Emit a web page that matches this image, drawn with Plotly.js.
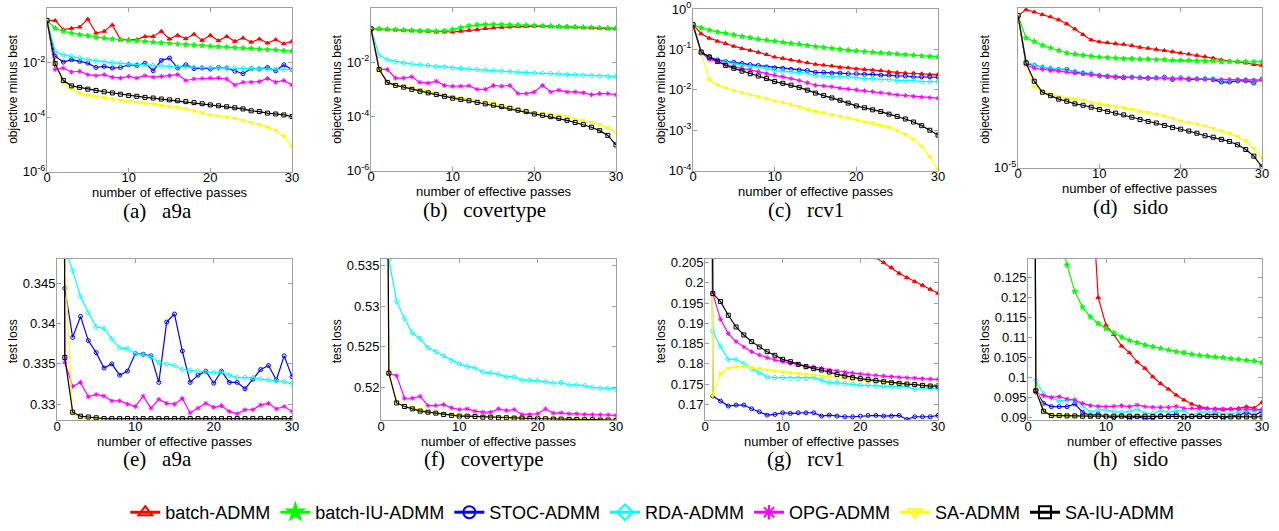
<!DOCTYPE html>
<html><head><meta charset="utf-8">
<script src="https://cdn.plot.ly/plotly-3.0.1.min.js"></script>
<style>html,body{margin:0;padding:0;background:#fff;} #chart{width:1279px;height:531px;}</style>
</head><body><div id="chart"></div>
<script>
// ---------------- DATA ----------------
const passes = [0,1,2,3,4,5,6,7,8,9,10,11,12,13,14,15,16,17,18,19,20,21,22,23,24,25,26,27,28,29,30];
const methods = ['batch-ADMM','batch-IU-ADMM','STOC-ADMM','RDA-ADMM','OPG-ADMM','SA-ADMM','SA-IU-ADMM'];
const captions = ['(a)   a9a','(b)   covertype','(c)   rcv1','(d)   sido','(e)   a9a','(f)   covertype','(g)   rcv1','(h)   sido'];
const xTitle = 'number of effective passes';
const objTitle = 'objective minus best';
const lossTitle = 'test loss';
const xTickVals = [0,10,20,30];
const xTickText = ['0','10','20','30'];

// (a) a9a objective minus best
const objA_batch   = [0.35,0.35,0.16,0.18,0.20,0.39,0.12,0.14,0.24,0.069,0.069,0.069,0.091,0.091,0.14,0.073,0.10,0.075,0.11,0.065,0.10,0.063,0.091,0.060,0.079,0.056,0.073,0.052,0.069,0.049,0.060];
const objA_batchIU = [0.35,0.18,0.14,0.12,0.105,0.097,0.086,0.079,0.073,0.069,0.065,0.062,0.059,0.056,0.053,0.050,0.048,0.046,0.044,0.042,0.040,0.038,0.037,0.035,0.034,0.033,0.031,0.030,0.029,0.027,0.026];
const objA_stoc    = [0.35,0.017,0.0104,0.0127,0.011,0.0095,0.0066,0.0072,0.0063,0.0066,0.0083,0.0078,0.0095,0.005,0.012,0.0146,0.0063,0.0083,0.006,0.0063,0.0058,0.0066,0.0063,0.0048,0.0039,0.006,0.0058,0.0066,0.005,0.0083,0.0055];
const objA_rda     = [0.35,0.026,0.019,0.017,0.0146,0.0127,0.0115,0.0107,0.010,0.0094,0.0089,0.0085,0.0081,0.0078,0.0075,0.0072,0.0070,0.0068,0.0067,0.0066,0.0065,0.0064,0.0063,0.0062,0.0061,0.0060,0.0059,0.0058,0.0057,0.0056,0.0055];
const objA_opg     = [0.35,0.0055,0.0063,0.0045,0.0048,0.0036,0.0033,0.0036,0.0029,0.0027,0.0031,0.0027,0.0033,0.0029,0.0031,0.0033,0.0036,0.0022,0.0025,0.0026,0.0027,0.0027,0.0025,0.0015,0.0019,0.0019,0.0020,0.0026,0.0019,0.0022,0.0015];
const objA_sa      = [0.35,0.01,0.0018,0.00107,0.00076,0.00062,0.00056,0.00051,0.00046,0.00041,0.00037,0.00035,0.00032,0.0003,0.00027,0.00025,0.00023,0.0002,0.00017,0.000145,0.00012,0.00011,0.0001,0.00009,0.000075,0.000063,0.000053,0.000043,0.000033,0.00002,0.0000083];
const objA_saiu    = [0.35,0.0091,0.0022,0.0014,0.00123,0.00106,0.00095,0.00085,0.00077,0.00069,0.00062,0.00058,0.00053,0.0005,0.00046,0.00043,0.0004,0.00037,0.00034,0.00031,0.00028,0.00026,0.00024,0.00022,0.0002,0.00017,0.00016,0.00014,0.00013,0.00012,0.000105];

// (b) covertype objective minus best
const objB_batch   = [0.17,0.165,0.16,0.155,0.15,0.145,0.14,0.135,0.13,0.13,0.13,0.14,0.15,0.16,0.175,0.185,0.195,0.2,0.205,0.21,0.215,0.215,0.21,0.205,0.2,0.195,0.19,0.185,0.18,0.175,0.17];
const objB_batchIU = [0.17,0.17,0.165,0.16,0.155,0.15,0.145,0.145,0.14,0.145,0.16,0.19,0.22,0.24,0.25,0.25,0.245,0.24,0.235,0.23,0.225,0.22,0.215,0.21,0.205,0.2,0.195,0.19,0.185,0.18,0.18];
const objB_stoc    = null;
const objB_rda     = [0.17,0.0178,0.0125,0.0105,0.0094,0.0086,0.008,0.0075,0.007,0.0066,0.0062,0.0059,0.0056,0.0053,0.0051,0.0049,0.0047,0.0045,0.0043,0.0041,0.004,0.0039,0.0038,0.0037,0.0036,0.0034,0.0033,0.0032,0.0031,0.003,0.003];
const objB_opg     = [0.17,0.0054,0.0054,0.0026,0.0026,0.0029,0.0018,0.0017,0.002,0.0014,0.0013,0.0013,0.00135,0.001,0.001,0.0014,0.0013,0.0014,0.0007,0.0007,0.0008,0.0014,0.0008,0.00094,0.0008,0.0008,0.00075,0.00063,0.0007,0.0007,0.00063];
const objB_sa      = [0.17,0.0054,0.0019,0.0015,0.0013,0.0011,0.00095,0.00083,0.00073,0.00063,0.00054,0.00048,0.00043,0.00038,0.00034,0.0003,0.00026,0.00022,0.00019,0.00016,0.00014,0.00013,0.00012,0.00011,0.0001,0.00008,0.00007,0.00006,0.00005,0.000038,0.000027];
const objB_saiu    = [0.17,0.0054,0.0018,0.0014,0.0012,0.001,0.00085,0.00074,0.00064,0.00055,0.00047,0.00042,0.00038,0.00033,0.00029,0.00026,0.00023,0.0002,0.00017,0.00015,0.000123,0.00011,0.000098,0.000085,0.000072,0.00006,0.00005,0.00004,0.00003,0.00002,0.0000089];

// (c) rcv1 objective minus best
const objC_batch   = [0.41,0.245,0.19,0.16,0.14,0.12,0.105,0.095,0.085,0.075,0.065,0.06,0.055,0.051,0.047,0.043,0.041,0.039,0.036,0.035,0.033,0.032,0.031,0.03,0.028,0.027,0.026,0.026,0.025,0.024,0.024];
const objC_batchIU = [0.41,0.34,0.3,0.27,0.25,0.23,0.21,0.195,0.18,0.17,0.16,0.15,0.14,0.135,0.125,0.118,0.112,0.106,0.1,0.096,0.092,0.088,0.085,0.082,0.079,0.077,0.074,0.072,0.069,0.067,0.065];
const objC_stoc    = [0.41,0.086,0.065,0.055,0.05,0.048,0.045,0.042,0.04,0.037,0.035,0.034,0.032,0.031,0.03,0.027,0.027,0.026,0.026,0.025,0.025,0.024,0.024,0.023,0.023,0.022,0.022,0.021,0.021,0.021,0.0205];
const objC_rda     = [0.41,0.08,0.06,0.052,0.048,0.044,0.041,0.038,0.036,0.034,0.03,0.029,0.028,0.027,0.026,0.022,0.022,0.021,0.021,0.021,0.02,0.019,0.019,0.018,0.018,0.017,0.017,0.017,0.016,0.016,0.016];
const objC_opg     = [0.41,0.084,0.057,0.05,0.042,0.037,0.034,0.031,0.028,0.025,0.023,0.021,0.019,0.017,0.015,0.013,0.0125,0.012,0.011,0.0105,0.01,0.0095,0.009,0.0085,0.008,0.0075,0.0072,0.0069,0.0066,0.0064,0.0062];
const objC_sa      = [0.41,0.086,0.0177,0.0132,0.011,0.0096,0.0085,0.0075,0.0067,0.006,0.0053,0.0048,0.0043,0.0038,0.0033,0.0029,0.0027,0.0024,0.0022,0.002,0.0018,0.0016,0.0015,0.0013,0.0012,0.001,0.00078,0.0006,0.0004,0.00022,0.000107];
const objC_saiu    = [0.41,0.086,0.065,0.05,0.04,0.034,0.029,0.025,0.022,0.019,0.016,0.0145,0.013,0.0115,0.0098,0.0083,0.0072,0.0063,0.0055,0.0047,0.004,0.0036,0.0032,0.0029,0.0025,0.0022,0.0019,0.0016,0.0013,0.001,0.00076];

// (d) sido objective minus best
const objD_batch   = [0.58,0.89,0.75,0.62,0.53,0.43,0.32,0.22,0.147,0.10,0.087,0.082,0.077,0.073,0.067,0.059,0.055,0.051,0.047,0.043,0.039,0.036,0.033,0.030,0.027,0.024,0.022,0.021,0.019,0.017,0.016];
const objD_batchIU = [0.58,0.115,0.09,0.068,0.056,0.047,0.039,0.036,0.033,0.031,0.029,0.028,0.027,0.026,0.026,0.025,0.025,0.024,0.024,0.023,0.023,0.023,0.022,0.022,0.022,0.021,0.021,0.021,0.021,0.0205,0.0205];
const objD_stoc    = [0.58,0.019,0.016,0.014,0.0125,0.012,0.012,0.0098,0.009,0.0085,0.0075,0.0072,0.0068,0.0065,0.0068,0.0065,0.0063,0.0065,0.0068,0.0058,0.0065,0.0058,0.006,0.006,0.0057,0.0048,0.0048,0.0052,0.0053,0.0045,0.006];
const objD_rda     = [0.58,0.021,0.016,0.014,0.013,0.012,0.0115,0.0105,0.0095,0.009,0.0078,0.0075,0.0071,0.0069,0.0068,0.0067,0.0066,0.0066,0.0065,0.0064,0.0064,0.0063,0.0062,0.0062,0.0062,0.0055,0.0055,0.0058,0.0058,0.0052,0.0058];
const objD_opg     = [0.58,0.017,0.013,0.012,0.011,0.0105,0.0098,0.0092,0.0087,0.0082,0.0077,0.0073,0.0071,0.0069,0.0067,0.0066,0.0065,0.0064,0.0063,0.0062,0.0061,0.006,0.006,0.0059,0.0058,0.0058,0.0057,0.0057,0.0056,0.0056,0.0055];
const objD_sa      = [0.58,0.019,0.0034,0.0025,0.002,0.0017,0.0015,0.0014,0.0013,0.0011,0.001,0.0009,0.00083,0.00075,0.00067,0.00059,0.00053,0.00047,0.00041,0.00035,0.00029,0.00026,0.00023,0.0002,0.00017,0.00014,0.00012,0.000095,0.00007,0.00004,0.00002];
const objD_saiu    = [0.58,0.019,0.0051,0.0023,0.0018,0.0014,0.0012,0.001,0.0009,0.00078,0.00066,0.00057,0.00051,0.00045,0.00038,0.00032,0.00028,0.00025,0.00021,0.00018,0.00016,0.00014,0.00012,0.0001,0.00009,0.000077,0.000066,0.000052,0.000037,0.000023,0.0000105];

// (e) a9a test loss
const lossA_batch   = null;
const lossA_batchIU = null;
const lossA_stoc    = [0.6931,0.3444,0.3383,0.3409,0.3379,0.3364,0.3345,0.335,0.3336,0.3341,0.3363,0.3362,0.336,0.3327,0.3402,0.3412,0.3366,0.3327,0.3336,0.3341,0.3326,0.3341,0.3327,0.3327,0.3319,0.3331,0.3343,0.3348,0.333,0.336,0.3334];
const lossA_rda     = [0.6931,0.3495,0.3466,0.3434,0.3414,0.3396,0.3394,0.3381,0.337,0.3369,0.3363,0.3361,0.3359,0.3352,0.335,0.3348,0.3343,0.3342,0.3341,0.334,0.3339,0.334,0.3336,0.3333,0.3333,0.3333,0.3331,0.333,0.3329,0.3328,0.3325];
const lossA_opg     = [0.6931,0.3352,0.3322,0.3327,0.3309,0.3312,0.331,0.3304,0.3304,0.33,0.3297,0.331,0.3295,0.3306,0.3301,0.33,0.3307,0.3289,0.3295,0.3301,0.3296,0.3298,0.3291,0.3288,0.3293,0.3293,0.3299,0.3301,0.3294,0.3297,0.3291];
const lossA_sa      = [0.6931,0.3476,0.3288,0.3283,0.3282,0.3282,0.3281,0.3281,0.3281,0.3281,0.3281,0.3281,0.3281,0.3281,0.3281,0.3281,0.3281,0.3281,0.3281,0.3281,0.3281,0.3281,0.3281,0.3281,0.3281,0.3281,0.3281,0.3281,0.3281,0.3281,0.3281];
const lossA_saiu    = [0.6931,0.3358,0.329,0.3285,0.3284,0.3283,0.3282,0.3282,0.3282,0.3282,0.3282,0.3282,0.3282,0.3282,0.3282,0.3282,0.3282,0.3282,0.3282,0.3282,0.3282,0.3282,0.3282,0.3282,0.3282,0.3282,0.3282,0.3282,0.3282,0.3282,0.3282];

// (f) covertype test loss
const lossB_batch   = null;
const lossB_batchIU = null;
const lossB_stoc    = null;
const lossB_rda     = [0.6931,0.5358,0.5306,0.5285,0.5267,0.526,0.5249,0.5244,0.5239,0.5233,0.5229,0.5226,0.5224,0.5219,0.5218,0.5216,0.5213,0.5213,0.5209,0.5209,0.5208,0.5207,0.5205,0.5206,0.5203,0.5203,0.5202,0.52,0.5199,0.5199,0.5198];
const lossB_opg     = [0.6931,0.52175,0.52143,0.51866,0.51866,0.5189,0.51776,0.51776,0.51788,0.51747,0.51727,0.51735,0.51707,0.51694,0.51694,0.51735,0.51715,0.51727,0.51666,0.51666,0.51674,0.51735,0.51682,0.51686,0.51674,0.51674,0.51666,0.51662,0.51662,0.51662,0.51654];
const lossB_sa      = [0.6931,0.52175,0.51829,0.51776,0.51747,0.51723,0.51707,0.5169,0.51678,0.51666,0.51658,0.51654,0.5165,0.51645,0.51641,0.51637,0.51633,0.51633,0.51629,0.51625,0.51625,0.51621,0.51621,0.51617,0.51617,0.51613,0.51613,0.51609,0.51609,0.51605,0.51605];
const lossB_saiu    = [0.6931,0.52175,0.51808,0.51764,0.51735,0.51707,0.51694,0.51682,0.51666,0.51654,0.51645,0.51645,0.51641,0.51633,0.51633,0.51625,0.51625,0.51621,0.51621,0.51617,0.51613,0.51613,0.51609,0.51609,0.51605,0.51605,0.51601,0.51601,0.51597,0.51597,0.51593];

// (g) rcv1 test loss
const lossC_batch   = [null,null,null,null,null,null,null,null,null,null,null,null,null,null,null,null,null,null,null,null,null,0.2075,0.2062,0.2050,0.20377,0.20237,0.2013,0.20031,0.19941,0.19842,0.19743];
const lossC_batchIU = null;
const lossC_stoc    = [0.6931,0.17206,0.17082,0.16959,0.16984,0.16984,0.16893,0.16819,0.16736,0.16753,0.16794,0.16778,0.16794,0.16794,0.16794,0.16712,0.16736,0.16712,0.16695,0.16695,0.16712,0.16728,0.16728,0.16712,0.16712,0.16728,0.16629,0.16695,0.16695,0.16695,0.16728];
const lossC_rda     = [0.6931,0.18812,0.18425,0.18112,0.18112,0.18005,0.17881,0.17783,0.17675,0.17659,0.17659,0.17642,0.17642,0.17642,0.17659,0.17593,0.17535,0.17535,0.17511,0.17494,0.1747,0.1747,0.17453,0.17453,0.17437,0.17437,0.17437,0.17371,0.17412,0.17395,0.17387];
const lossC_opg     = [0.6931,0.19735,0.191,0.18746,0.18549,0.18417,0.18301,0.18219,0.18153,0.18096,0.18054,0.18013,0.17988,0.17947,0.17923,0.1789,0.17848,0.17824,0.17799,0.17774,0.1775,0.17733,0.17717,0.177,0.17684,0.17667,0.17659,0.17651,0.17634,0.17626,0.17618];
const lossC_sa      = [0.6931,0.17222,0.17758,0.1789,0.17923,0.17931,0.17906,0.17881,0.17848,0.17824,0.17799,0.17774,0.17758,0.17741,0.17725,0.177,0.17684,0.17659,0.17642,0.17618,0.17601,0.17585,0.17568,0.17552,0.17535,0.17527,0.17511,0.17494,0.17486,0.1747,0.17453];
const lossC_saiu    = [0.6931,0.19735,0.19537,0.19199,0.18911,0.18713,0.18549,0.18417,0.18301,0.18211,0.18112,0.18054,0.17988,0.17931,0.17881,0.17848,0.17799,0.17741,0.177,0.17659,0.17634,0.1761,0.17585,0.1756,0.17535,0.17519,0.17502,0.1749,0.1747,0.17453,0.17453];

// (h) sido test loss
const lossD_batch   = [null,null,null,null,null,null,null,null,0.153,0.12,0.11305,0.11073,0.10783,0.10617,0.10385,0.10227,0.10012,0.09846,0.09705,0.09556,0.09431,0.09332,0.09265,0.09224,0.09207,0.09191,0.09207,0.09224,0.09265,0.09232,0.09373];
const lossD_batchIU = [null,null,null,null,0.1366,0.12814,0.12151,0.11753,0.11512,0.11347,0.11222,0.11114,0.11007,0.10924,0.10866,0.10808,0.10766,0.10725,0.10683,0.10642,0.10617,0.10575,0.10551,0.10534,0.10509,0.10493,0.10468,0.10451,0.10426,0.1041,0.10368];
const lossD_stoc    = [0.6931,0.09663,0.09348,0.09265,0.09265,0.09265,0.09332,0.09124,0.09041,0.09083,0.09017,0.08983,0.09041,0.08959,0.09017,0.08959,0.08983,0.09041,0.09041,0.09083,0.08959,0.09041,0.09041,0.09041,0.09083,0.08959,0.09041,0.09041,0.09124,0.09041,0.09149];
const lossD_rda     = [0.6931,0.09912,0.0958,0.09481,0.09415,0.09415,0.09431,0.0929,0.09124,0.09182,0.09182,0.09141,0.09124,0.09141,0.09207,0.091,0.09083,0.09166,0.09124,0.09166,0.09166,0.09041,0.09124,0.09124,0.09141,0.09083,0.09083,0.09124,0.09166,0.09149,0.09191];
const lossD_opg     = [0.6931,0.09622,0.09539,0.09498,0.09514,0.09456,0.09431,0.09348,0.0929,0.09274,0.09265,0.09274,0.0929,0.09265,0.09307,0.09265,0.09249,0.09249,0.09249,0.09274,0.09224,0.09224,0.09224,0.09224,0.09207,0.09207,0.09207,0.09199,0.09207,0.09191,0.09191];
const lossD_sa      = [0.6931,0.09746,0.09166,0.09058,0.0905,0.09041,0.09033,0.09033,0.09033,0.09033,0.09033,0.09033,0.09033,0.09033,0.09033,0.09025,0.09025,0.09025,0.09025,0.09025,0.09025,0.09025,0.09025,0.09025,0.09025,0.09017,0.09017,0.09017,0.09017,0.09017,0.09017];
const lossD_saiu    = [0.6931,0.09663,0.09149,0.09041,0.09041,0.09033,0.09033,0.09025,0.09025,0.09025,0.09025,0.09025,0.09025,0.09025,0.09025,0.09025,0.09017,0.09017,0.09017,0.09017,0.09017,0.09017,0.09017,0.09017,0.09017,0.09017,0.09008,0.09008,0.09008,0.09008,0.09008];

const objTickValsA = [1,1e-2,1e-4,1e-6];
const objTickTextA = ['10<sup>0</sup>','10<sup>-2</sup>','10<sup>-4</sup>','10<sup>-6</sup>'];
const objTickValsC = [1,1e-1,1e-2,1e-3,1e-4];
const objTickTextC = ['10<sup>0</sup>','10<sup>-1</sup>','10<sup>-2</sup>','10<sup>-3</sup>','10<sup>-4</sup>'];
const objTickValsD = [1,1e-5];
const objTickTextD = ['10<sup>0</sup>','10<sup>-5</sup>'];
const lossTickValsA = [0.33,0.335,0.34,0.345];
const lossTickTextA = ['0.33','0.335','0.34','0.345'];
const lossTickValsB = [0.52,0.525,0.53,0.535];
const lossTickTextB = ['0.52','0.525','0.53','0.535'];
const lossTickValsC = [0.17,0.175,0.18,0.185,0.19,0.195,0.2,0.205];
const lossTickTextC = ['0.17','0.175','0.18','0.185','0.19','0.195','0.2','0.205'];
const lossTickValsD = [0.09,0.095,0.1,0.105,0.11,0.115,0.12,0.125];
const lossTickTextD = ['0.09','0.095','0.1','0.105','0.11','0.115','0.12','0.125'];

// ---------------- STYLE / LAYOUT ----------------
const colors  = ['#ff0000','#00ff00','#0000ff','#00ffff','#ff00ff','#ffff00','#000000'];
const symbols = ['triangle-up','star','circle-open','diamond-open','asterisk-open','triangle-down','square-open'];
const legSymbols = ['triangle-up-open','star','circle-open','diamond-open','asterisk-open','triangle-down-open','square-open'];

const panels = [
  {series:[objA_batch,objA_batchIU,objA_stoc,objA_rda,objA_opg,objA_sa,objA_saiu], log:true, range:[-6,0], tv:objTickValsA, tt:objTickTextA, xd:[47,292], yd:[172,8]},
  {series:[objB_batch,objB_batchIU,objB_stoc,objB_rda,objB_opg,objB_sa,objB_saiu], log:true, range:[-6,0], tv:objTickValsA, tt:objTickTextA, xd:[371,616], yd:[171,8]},
  {series:[objC_batch,objC_batchIU,objC_stoc,objC_rda,objC_opg,objC_sa,objC_saiu], log:true, range:[-4,0], tv:objTickValsC, tt:objTickTextC, xd:[693,938], yd:[171,9]},
  {series:[objD_batch,objD_batchIU,objD_stoc,objD_rda,objD_opg,objD_sa,objD_saiu], log:true, range:[-5,0], tv:objTickValsD, tt:objTickTextD, xd:[1018,1262], yd:[168,8]},
  {series:[lossA_batch,lossA_batchIU,lossA_stoc,lossA_rda,lossA_opg,lossA_sa,lossA_saiu], log:false, range:[0.328,0.3481], tv:lossTickValsA, tt:lossTickTextA, xd:[57,292], yd:[421,259]},
  {series:[lossB_batch,lossB_batchIU,lossB_stoc,lossB_rda,lossB_opg,lossB_sa,lossB_saiu], log:false, range:[0.51595,0.5359], tv:lossTickValsB, tt:lossTickTextB, xd:[381,616], yd:[421,259]},
  {series:[lossC_batch,lossC_batchIU,lossC_stoc,lossC_rda,lossC_opg,lossC_sa,lossC_saiu], log:false, range:[0.1661,0.206], tv:lossTickValsC, tt:lossTickTextC, xd:[705,938], yd:[421,259]},
  {series:[lossD_batch,lossD_batchIU,lossD_stoc,lossD_rda,lossD_opg,lossD_sa,lossD_saiu], log:false, range:[0.08925,0.12975], tv:lossTickValsD, tt:lossTickTextD, xd:[1028,1262], yd:[421,259]}
];

const W = 1279, H = 531;
const px = v => v / W;
const py = v => (H - v) / H;
const FONT = 'Arial, "Liberation Sans", sans-serif';

const traces = [];
const layout = {
  width: W, height: H,
  margin: {l:0, r:0, t:0, b:0},
  paper_bgcolor: '#ffffff', plot_bgcolor: '#ffffff',
  font: {family: FONT, size: 13, color: '#000'},
  showlegend: true,
  legend: {orientation:'h', x:0.51, xanchor:'center', y:py(513), yanchor:'middle',
           font:{family:FONT, size:18, color:'#000'}, tracegroupgap:0,
           bgcolor:'rgba(0,0,0,0)', itemclick:false, itemdoubleclick:false},
  annotations: []
};

const axisCommon = {
  showgrid:false, zeroline:false, showline:true, linecolor:'#a0a0a0', linewidth:1,
  mirror:'ticks', ticks:'inside', ticklen:4, tickcolor:'#a0a0a0', tickwidth:1,
  tickfont:{family:FONT, size:13, color:'#000'}, fixedrange:true
};

const capX = [157,484,806,1130];

panels.forEach((p, i) => {
  const n = i + 1;
  const xa = 'xaxis' + (n === 1 ? '' : n), ya = 'yaxis' + (n === 1 ? '' : n);
  const xr = 'x' + (n === 1 ? '' : n), yr = 'y' + (n === 1 ? '' : n);
  layout[xa] = Object.assign({}, axisCommon, {
    domain:[px(p.xd[0]), px(p.xd[1])], range:[0,30], anchor:yr,
    tickmode:'array', tickvals:xTickVals, ticktext:xTickText, ticklabelstandoff:-6
  });
  layout[ya] = Object.assign({}, axisCommon, {
    domain:[py(p.yd[0]), py(p.yd[1])], anchor:xr,
    type: p.log ? 'log' : 'linear', range:p.range,
    tickmode:'array', tickvals:p.tv, ticktext:p.tt, ticklabelstandoff:-2
  });
  p.series.forEach((s, k) => {
    if (!s) return;
    traces.push({
      type:'scatter', mode:'lines+markers', x:passes, y:s, xaxis:xr, yaxis:yr,
      name:methods[k], showlegend:false, connectgaps:false, cliponaxis:true,
      line:{color:colors[k], width:1.2},
      marker:{symbol:symbols[k], size:4, color:colors[k], line:{color:colors[k], width:1}},
      hoverinfo:'skip'
    });
  });
  const row = i < 4 ? 0 : 1;
  const col = i % 4;
  const bottom = p.yd[0];
  const cx = (p.xd[0] + p.xd[1]) / 2;
  layout.annotations.push({xref:'paper', yref:'paper', x:px(cx), y:py(bottom + 21), xanchor:'center', yanchor:'middle',
    text:xTitle, showarrow:false, font:{size:13, family:FONT, color:'#000'}});
  const ytx = [13,337,661,985][col];
  const yty = row === 0 ? 90 : 342;
  layout.annotations.push({xref:'paper', yref:'paper', x:px(ytx), y:py(yty), xanchor:'center', yanchor:'middle',
    text: row === 0 ? objTitle : lossTitle, textangle:-90, showarrow:false,
    font:{size:12, family:FONT, color:'#000'}});
  layout.annotations.push({xref:'paper', yref:'paper', x:px(capX[col]), y:py(bottom + 39), xanchor:'center', yanchor:'middle',
    text:captions[i].replace(/ /g,'\u00a0'), showarrow:false,
    font:{size:21, family:'"Liberation Serif", "Times New Roman", serif', color:'#000'}});
});

methods.forEach((m, k) => {
  traces.push({
    type:'scatter', mode:'lines+markers', x:[null], y:[null], xaxis:'x', yaxis:'y',
    name:m, showlegend:true,
    line:{color:colors[k], width:3},
    marker:{symbol:legSymbols[k], size:12, color:colors[k], line:{color:colors[k], width:2}}
  });
});

Plotly.newPlot('chart', traces, layout, {staticPlot:true, displayModeBar:false});
</script>
</body></html>
